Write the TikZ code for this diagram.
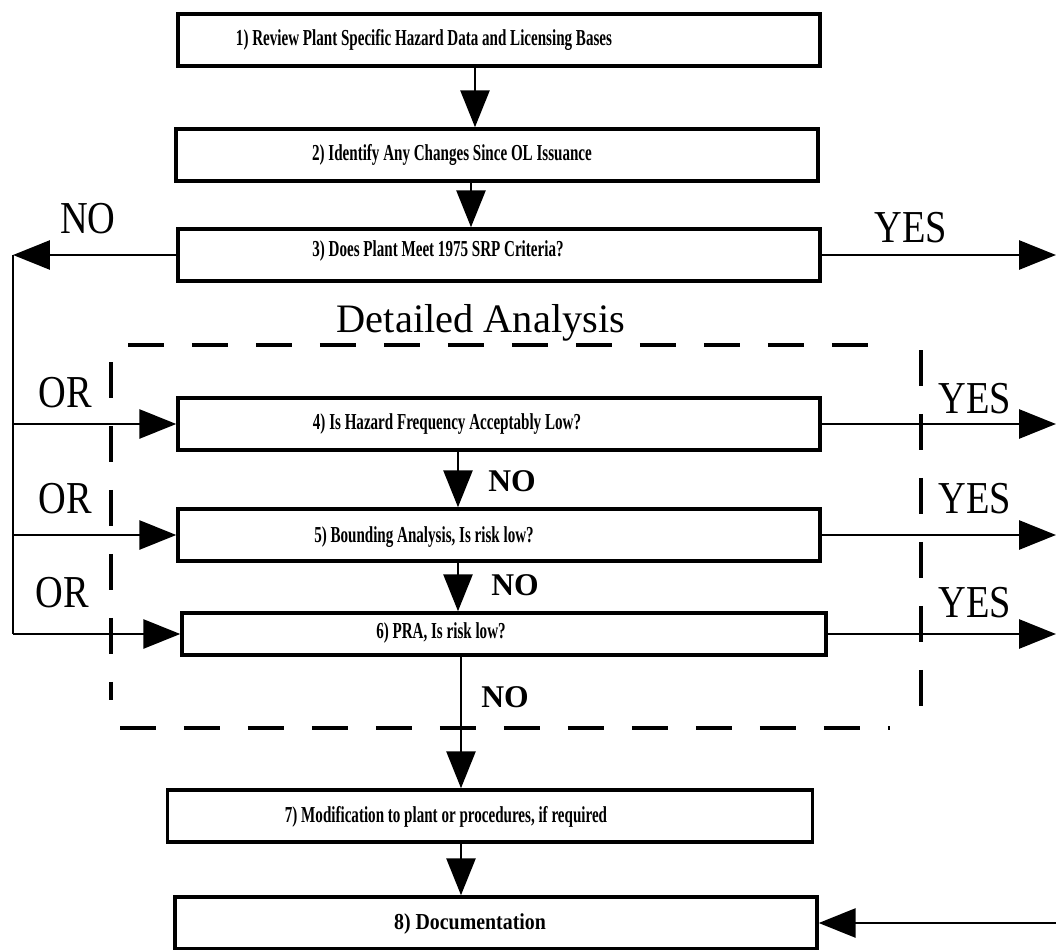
\documentclass[tikz,border=0pt]{standalone}
\usepackage{fontspec}
\setmainfont{Liberation Serif}
\newfontfamily\boxfont[FakeStretch=0.66]{Liberation Serif}
\newfontfamily\docfont[FakeStretch=0.87]{Liberation Serif}
\newfontfamily\labfont[FakeStretch=0.84]{Liberation Serif}
\usetikzlibrary{arrows.meta, calc, positioning}

\begin{document}
\begin{tikzpicture}[x=0.02cm, y=-0.02cm,
	box/.style={draw, line width=2pt, minimum width=12.84cm, minimum height=1.04cm, inner sep=0pt},
	boxtxt/.style={font=\boxfont\bfseries\fontsize{13}{15}\selectfont, inner sep=0pt},
	biglab/.style={font=\labfont\fontsize{26}{30}\selectfont, inner sep=0pt, anchor=base},
	nolab/.style={font=\bfseries\fontsize{18}{20}\selectfont, inner sep=0pt, anchor=base},
	plain/.style={line width=1.6pt},
	arr/.style={line width=1.6pt, -{Triangle[length=0.74cm, width=0.58cm]}},
	dashln/.style={line width=2pt, dash pattern=on 0.72cm off 0.56cm}]
	\useasboundingbox (0,0) rectangle (1056,950);
	\coordinate (lft) at (13,252);
	\coordinate (rgt) at (1056,252);

	% boxes
	\node[box] (b1) at (499,40) {};
	\node[box] (b2) at (497,155) {};
	\node[box] (b3) at (499,255) {};
	\node[box] (b4) at (499,424) {};
	\node[box] (b5) at (499,535) {};
	\node[box, minimum width=12.88cm, minimum height=0.84cm] (b6) at (504,634) {};
	\node[box, minimum width=12.9cm] (b7) at (490,816) {};
	\node[box] (b8) at (496,923) {};

	\node[boxtxt] (t1) at (424,40) {1) Review Plant Specific Hazard Data and Licensing Bases};
	\node[boxtxt] (t2) at (452,155) {2) Identify Any Changes Since OL Issuance};
	\node[boxtxt] (t3) at (438,251) {3) Does Plant Meet 1975 SRP Criteria?};
	\node[boxtxt] (t4) at (447,424) {4) Is Hazard Frequency Acceptably Low?};
	\node[boxtxt] (t5) at (424,537) {5) Bounding Analysis, Is risk low?};
	\node[boxtxt] (t6) at (441,633) {6) PRA, Is risk low?};
	\node[boxtxt] (t7) at (446,817) {7) Modification to plant or procedures, if required};
	\node[font=\docfont\bfseries\fontsize{13}{15}\selectfont, inner sep=0pt] (t8) at (470,924) {8) Documentation};

	% down the middle
	\draw[arr] ($(b1.south)+(-24,0)$) -- ($(b2.north)+(-22,0)$);
	\draw[arr] ($(b2.south)+(-26,0)$) -- ($(b3.north)+(-28,0)$);
	\draw[arr] ($(b4.south)+(-41,0)$) -- ($(b5.north)+(-41,0)$);
	\draw[arr] ($(b5.south)+(-41,0)$) -- ($(b6.north)+(-46,0)$);
	\draw[arr] ($(b6.south)+(-43,0)$) -- ($(b7.north)+(-29,0)$);
	\draw[arr] ($(b7.south)+(-29,0)$) -- ($(b8.north)+(-35,0)$);

	% left branch
	\draw[arr] (b3.west) -- (b3.west -| lft);
	\draw[plain] (b3.west -| lft) -- (b6.west -| lft);
	\foreach \b in {b4,b5,b6}
		\draw[arr] (\b.west -| lft) -- (\b.west);

	% right branch
	\foreach \b in {b3,b4,b5,b6}
		\draw[arr] (\b.east) -- (\b.east -| rgt);
	\draw[arr] (b8.east -| rgt) -- (b8.east);

	% detailed analysis frame
	\draw[dashln] (128,345) -- (892,345);
	\draw[dashln] (111,362) -- (111,700);
	\draw[dashln] (921,350) -- (921,728);
	\draw[dashln] (120,728) -- (890,728);
	\node[biglab, font=\fontsize{23}{26}\selectfont] (da) at (481,332) {Detailed Analysis};

	% labels
	\node[biglab] (no0) at (88,233) {NO};
	\node[biglab] (yes0) at (911,242) {YES};
	\node[biglab] (or1) at (65,407) {OR};
	\node[biglab] (or2) at (65,513) {OR};
	\node[biglab] (or3) at (62,607) {OR};
	\node[biglab] (yes1) at (975,413) {YES};
	\node[biglab] (yes2) at (975,513) {YES};
	\node[biglab] (yes3) at (975,617) {YES};
	\node[nolab] (no1) at (512,491) {NO};
	\node[nolab] (no2) at (515,595) {NO};
	\node[nolab] (no3) at (505,707) {NO};
\end{tikzpicture}
\end{document}
